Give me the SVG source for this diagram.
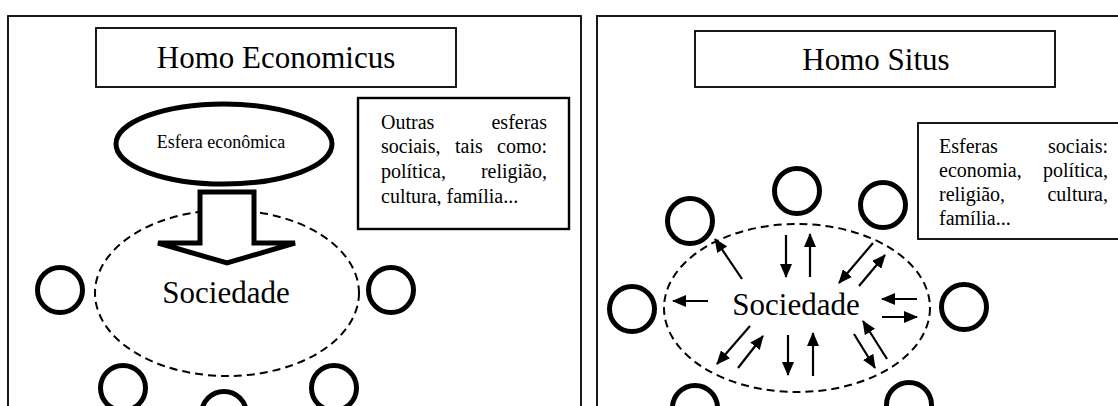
<svg xmlns="http://www.w3.org/2000/svg" width="1118" height="406" viewBox="0 0 1118 406">
<style>
.panel{fill:none;stroke:#000;stroke-width:1.8}
.box{fill:#fff;stroke:#000;stroke-width:1.8}
.tbox{fill:#fff;stroke:#000;stroke-width:2.4}
.t{font-family:"Liberation Serif","Times New Roman",serif;fill:#000}
.title{font-size:31px;text-anchor:middle}
.body{font-size:20px}
.soc{font-size:31px;text-anchor:middle}
.sph{fill:none;stroke:#000;stroke-width:5}
.dash{fill:none;stroke:#000;stroke-width:2;stroke-dasharray:8 5}
.arr{stroke:#000;stroke-width:2.2;fill:none;marker-end:url(#ah)}
</style>
<defs>
<marker id="ah" markerUnits="userSpaceOnUse" markerWidth="14" markerHeight="12" refX="13" refY="6" orient="auto">
<path d="M0,0 L14,6 L0,12 Z" fill="#000"/>
</marker>
</defs>
<rect width="1118" height="406" fill="#fff"/>

<!-- Left panel -->
<g id="panel-left">
<rect class="panel" x="8" y="16" width="573" height="420"/>
</g>
<g id="title-left">
<rect class="box" x="96" y="28" width="360" height="59"/>
<text class="t title" x="276" y="68">Homo Economicus</text>
</g>
<g id="note-left">
<rect class="tbox" x="358" y="98" width="211" height="131"/>
<text class="t body" x="381" y="129">Outras</text>
<text class="t body" x="547" y="129" text-anchor="end">esferas</text>
<text class="t body" x="381" y="153">sociais,</text>
<text class="t body" x="455" y="153">tais</text>
<text class="t body" x="547" y="153" text-anchor="end">como:</text>
<text class="t body" x="381" y="178">política,</text>
<text class="t body" x="547" y="178" text-anchor="end">religião,</text>
<text class="t body" x="381" y="203">cultura, família...</text>
</g>
<g id="sociedade-left">
<ellipse class="dash" cx="227" cy="293" rx="132" ry="83"/>
<text class="t soc" x="226" y="303">Sociedade</text>
</g>
<g id="esfera-economica">
<ellipse fill="#fff" stroke="#000" stroke-width="5" cx="224" cy="144" rx="108" ry="40"/>
<text class="t" font-size="18" text-anchor="middle" x="221" y="148">Esfera econômica</text>
</g>
<g id="circles-left">
<circle class="sph" cx="60" cy="290" r="22.5"/>
<circle class="sph" cx="391" cy="290" r="22.5"/>
<circle class="sph" cx="123" cy="388" r="22.5"/>
<circle class="sph" cx="224" cy="414" r="22.5"/>
<circle class="sph" cx="334" cy="388" r="22.5"/>
</g>

<!-- Right panel -->
<g id="panel-right">
<rect class="panel" x="597" y="16" width="560" height="420"/>
</g>
<g id="title-right">
<rect class="box" x="695" y="31" width="360" height="56"/>
<text class="t title" x="876" y="70">Homo Situs</text>
</g>
<g id="note-right">
<rect class="box" x="918" y="123" width="220" height="116"/>
<text class="t body" x="939" y="153">Esferas</text>
<text class="t body" x="1108" y="153" text-anchor="end">sociais:</text>
<text class="t body" x="939" y="177">economia,</text>
<text class="t body" x="1108" y="177" text-anchor="end">política,</text>
<text class="t body" x="939" y="201">religião,</text>
<text class="t body" x="1108" y="201" text-anchor="end">cultura,</text>
<text class="t body" x="939" y="225">família...</text>
</g>
<g id="sociedade-right">
<ellipse class="dash" cx="797" cy="308" rx="133" ry="84"/>
<text class="t soc" x="796" y="315">Sociedade</text>
</g>
<g id="circles-right">
<circle class="sph" cx="690" cy="221" r="22.5"/>
<circle class="sph" cx="797" cy="191" r="22.5"/>
<circle class="sph" cx="883" cy="205" r="22.5"/>
<circle class="sph" cx="632" cy="309" r="22.5"/>
<circle class="sph" cx="964" cy="307" r="22.5"/>
<circle class="sph" cx="695" cy="408" r="22.5"/>
<circle class="sph" cx="909" cy="405" r="22.5"/>
</g>

<!-- Connectors -->
<g id="connectors">
<path d="M200,192 L254,192 L254,243 L295,243 L227,263 L158,243 L200,243 Z" fill="#fff" stroke="#000" stroke-width="5" stroke-linejoin="miter"/>
<line class="arr" x1="742" y1="279" x2="715" y2="239"/>
<line class="arr" x1="786" y1="235" x2="786" y2="277"/>
<line class="arr" x1="810" y1="277" x2="810" y2="234"/>
<line class="arr" x1="873" y1="243" x2="839" y2="283"/>
<line class="arr" x1="859" y1="286" x2="885" y2="255"/>
<line class="arr" x1="708" y1="301" x2="673" y2="301"/>
<line class="arr" x1="917" y1="299" x2="882" y2="299"/>
<line class="arr" x1="882" y1="317" x2="917" y2="317"/>
<line class="arr" x1="750" y1="326" x2="717" y2="364"/>
<line class="arr" x1="738" y1="368" x2="763" y2="336"/>
<line class="arr" x1="788" y1="335" x2="788" y2="375"/>
<line class="arr" x1="813" y1="376" x2="813" y2="333"/>
<line class="arr" x1="854" y1="334" x2="875" y2="368"/>
<line class="arr" x1="887" y1="359" x2="863" y2="321"/>
</g>
</svg>
